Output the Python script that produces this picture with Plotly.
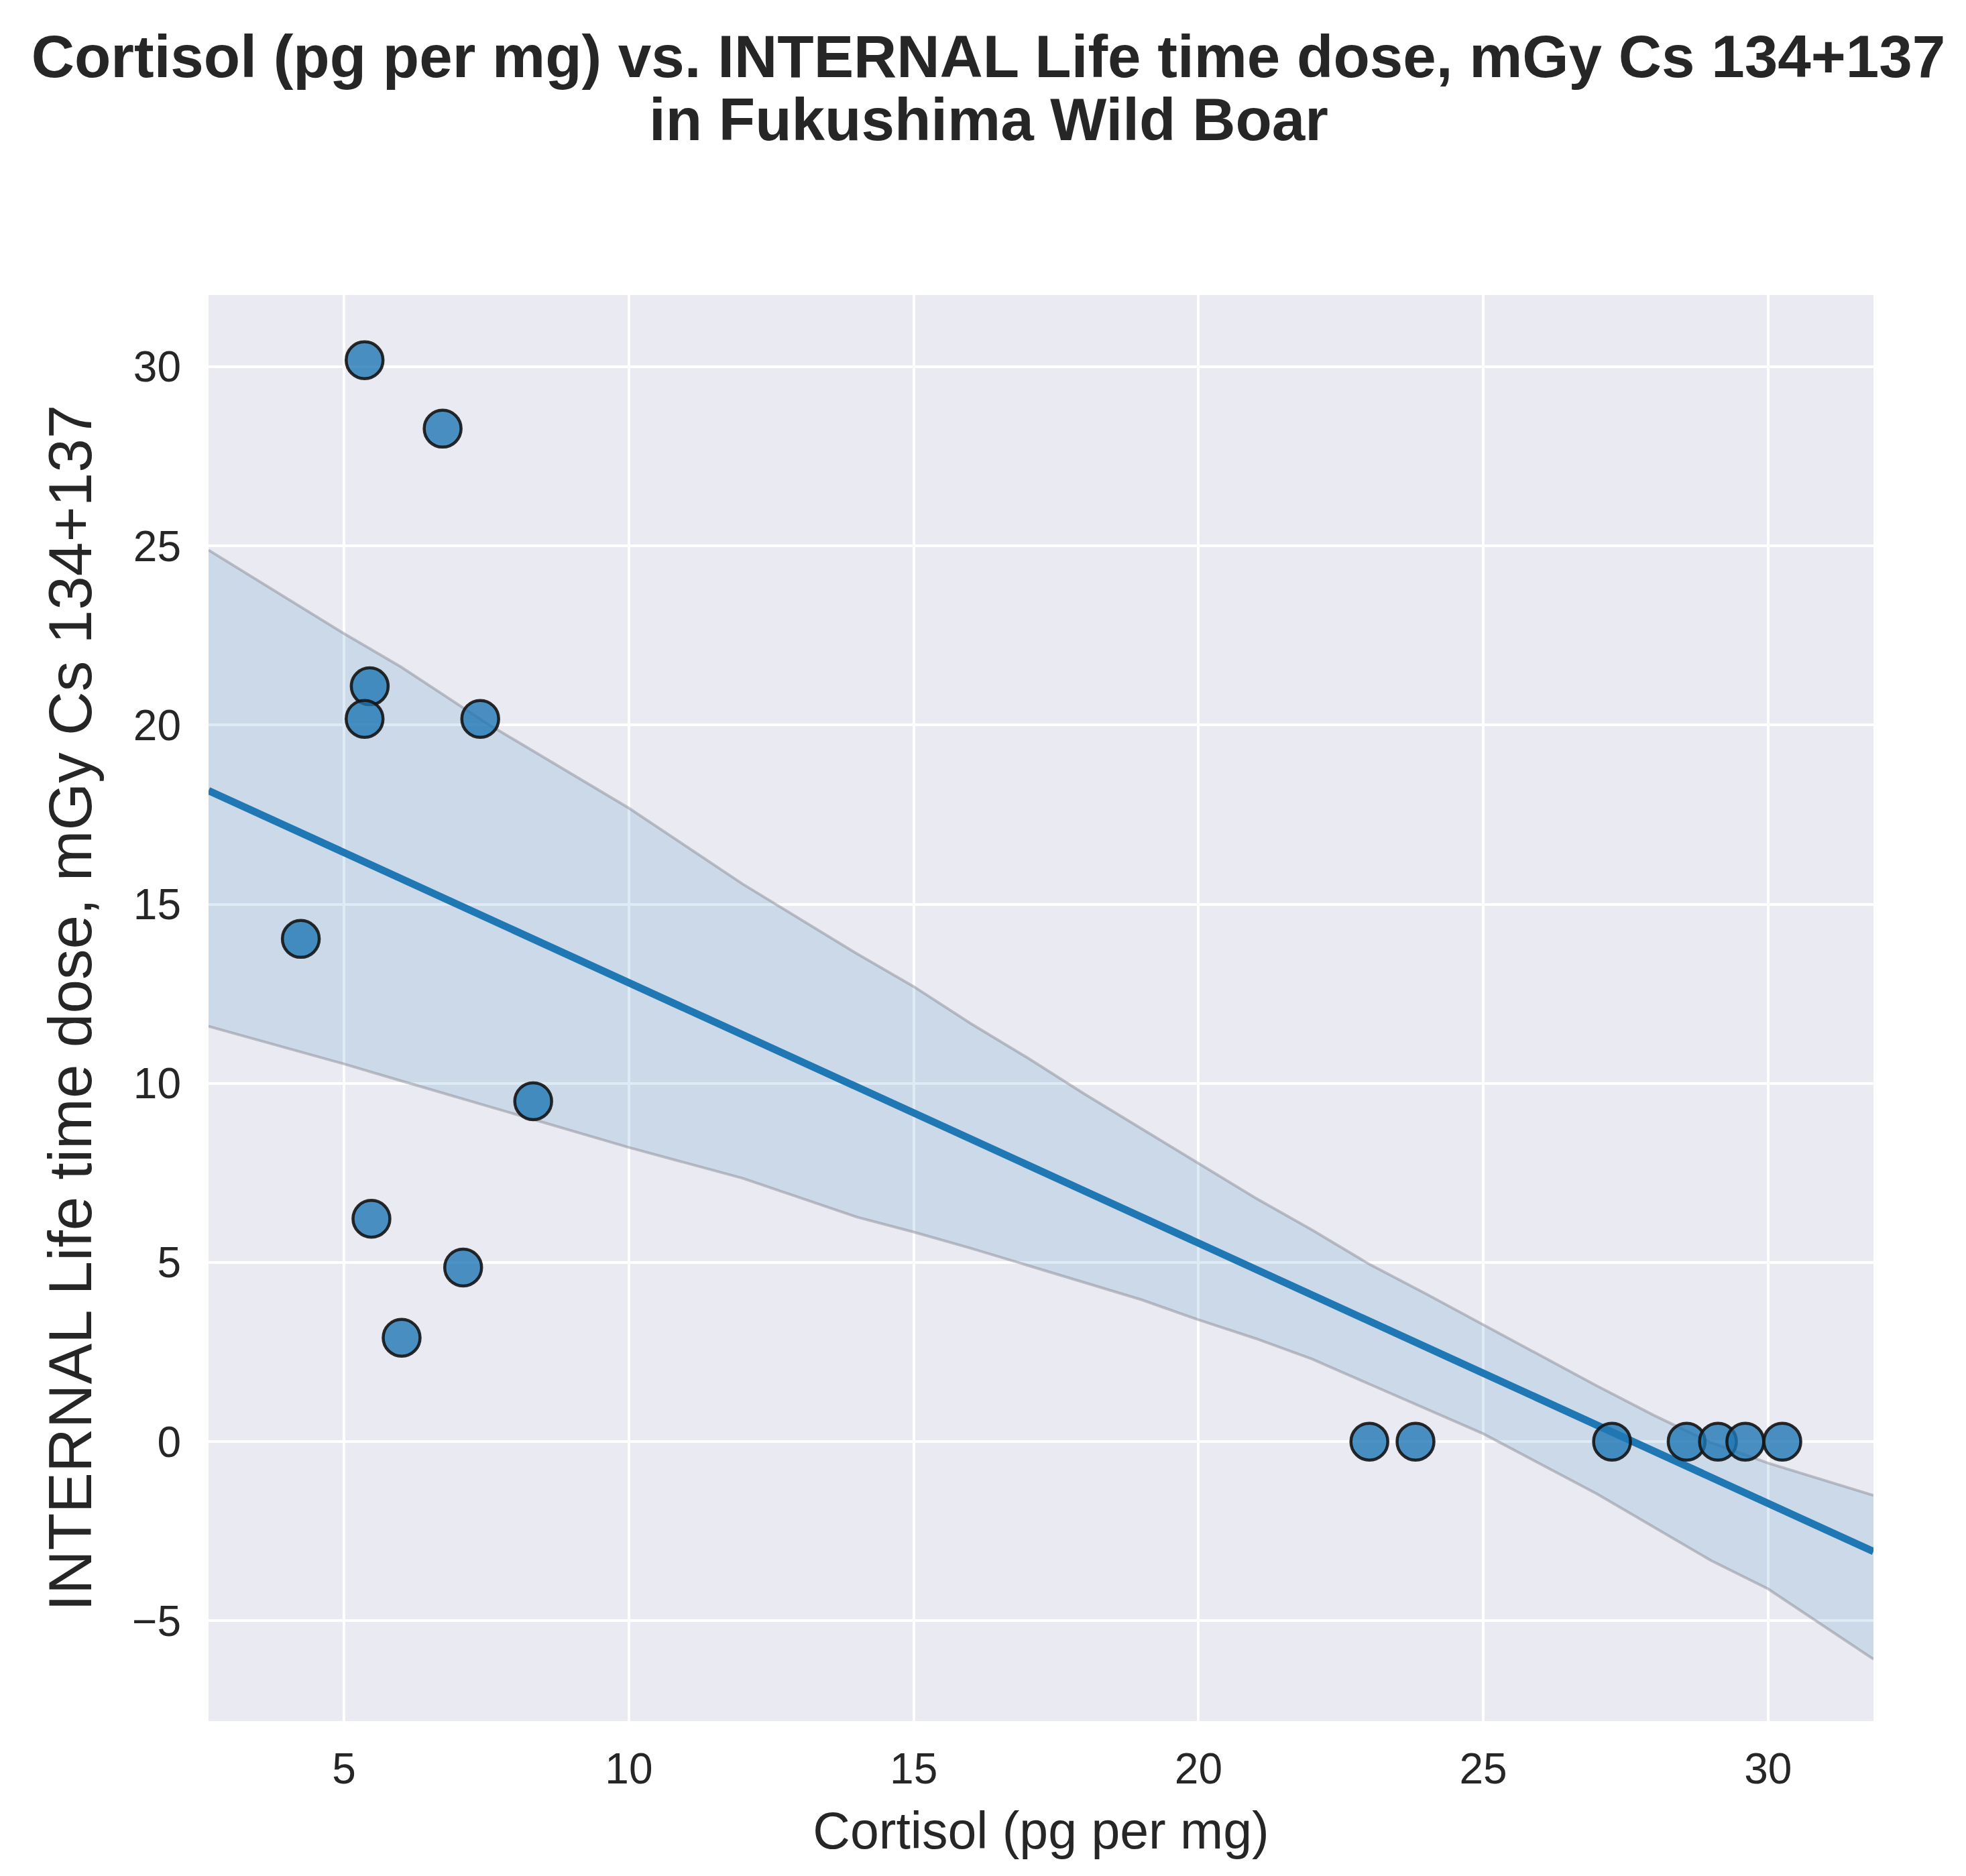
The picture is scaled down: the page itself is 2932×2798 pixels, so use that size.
import numpy as np
import plotly.graph_objects as go

# values
cortisol = [5.36, 6.73, 5.45, 5.36, 7.39, 4.24, 8.32, 5.48, 7.09, 6.01,
            23.00, 23.81, 27.26, 28.57, 29.12, 29.60, 30.25]
dose = [30.18, 28.27, 21.08, 20.17, 20.17, 14.03, 9.50, 6.22, 4.86, 2.90,
        0, 0, 0, 0, 0, 0, 0]

# confidence band of the fit (bootstrap band)
band_x = [2.62, 5, 6, 7.5, 10, 12, 14, 15, 16, 17, 18, 19, 20, 21, 22, 23, 24,
          25, 27, 28, 29, 30, 31.85]
band_upper = [24.88, 22.55, 21.62, 20.05, 17.68, 15.56, 13.62, 12.7, 11.67, 10.71,
              9.70, 8.74, 7.76, 6.8, 5.9, 4.95, 4.12, 3.27, 1.55, 0.73, -0.03,
              -0.6, -1.5]
band_lower = [11.59, 10.54, 10.07, 9.37, 8.21, 7.35, 6.27, 5.85, 5.40, 4.92,
              4.44, 3.96, 3.40, 2.88, 2.3, 1.60, 0.92, 0.22, -1.46, -2.39, -3.32,
              -4.11, -6.07]

x_ticks = [5, 10, 15, 20, 25, 30]
y_ticks = [-5, 0, 5, 10, 15, 20, 25, 30]

title_1 = 'Cortisol (pg per mg) vs. INTERNAL Life time dose, mGy Cs 134+137'
title_2 = 'in Fukushima Wild Boar'
x_title = 'Cortisol (pg per mg)'
y_title = 'INTERNAL Life time dose, mGy Cs 134+137'

FONT = 'Arial, Liberation Sans, sans-serif'
TEXT = '#262626'

slope, intercept = np.polyfit(cortisol, dose, 1)
fit_x = np.array([band_x[0], band_x[-1]])
fit_y = slope * fit_x + intercept

fig = go.Figure()

edge = dict(color='rgba(140,140,150,0.5)', width=4)
fig.add_trace(go.Scatter(x=band_x, y=band_lower, mode='lines', line=edge,
                         showlegend=False, hoverinfo='skip'))
fig.add_trace(go.Scatter(x=band_x, y=band_upper, mode='lines', fill='tonexty',
                         fillcolor='rgba(31,119,180,0.15)', line=edge,
                         showlegend=False, hoverinfo='skip'))
fig.add_trace(go.Scatter(x=fit_x, y=fit_y, mode='lines',
                         line=dict(color='#1f77b4', width=11),
                         showlegend=False))
fig.add_trace(go.Scatter(x=cortisol, y=dose, mode='markers',
                         marker=dict(size=55, color='rgba(31,119,180,0.8)',
                                     line=dict(color='rgba(20,20,20,0.9)', width=4.5)),
                         showlegend=False))

fig.update_layout(
    width=2932, height=2798,
    margin=dict(l=303, r=146, t=432, b=239),
    paper_bgcolor='white',
    plot_bgcolor='#eaeaf2',
    font=dict(family=FONT, color=TEXT, size=64),
    title=dict(text=title_1, x=0.5, xref='container', xanchor='center',
               y=1 - 75.5 / 2798, yref='container', yanchor='middle',
               font=dict(family=FONT, size=89, color=TEXT, weight='bold')),
    annotations=[dict(text=title_2, xref='paper', yref='paper',
                      x=(1466 - 303) / 2483, y=(2559 - 170) / 2127,
                      xanchor='center', yanchor='middle', showarrow=False,
                      font=dict(family=FONT, size=89, color=TEXT, weight='bold'))],
)

fig.update_xaxes(range=[2.62, 31.85], tickvals=x_ticks, showgrid=True,
                 gridcolor='white', gridwidth=4, zeroline=False, showline=False,
                 ticks='', ticklabelstandoff=28,
                 tickfont=dict(size=64, color=TEXT),
                 title=dict(text=x_title, font=dict(size=77, color=TEXT), standoff=30))
fig.update_yaxes(range=[-7.8, 32.0], tickvals=y_ticks, showgrid=True,
                 gridcolor='white', gridwidth=4, zeroline=False, showline=False,
                 ticks='', ticklabelstandoff=40,
                 tickfont=dict(size=64, color=TEXT),
                 title=dict(text=y_title, font=dict(size=91, color=TEXT), standoff=30))

fig.write_html('out.html')
